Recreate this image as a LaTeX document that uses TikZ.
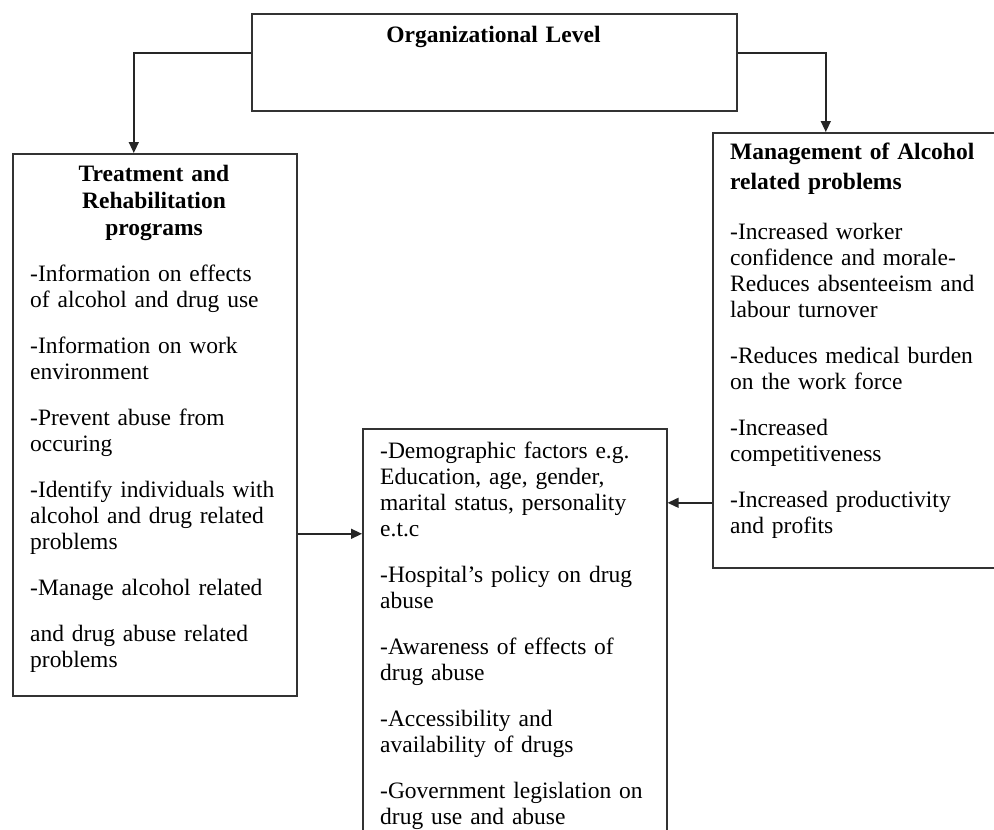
\documentclass[tikz,border=0pt]{standalone}
\usepackage{fontspec}
\setmainfont{Liberation Serif}
\usetikzlibrary{arrows.meta}
\begin{document}
\begin{tikzpicture}[x=1pt,y=-1pt,
  box/.style={draw=black!80, line width=1.6pt, fill=white, inner sep=0pt, anchor=north west},
  arr/.style={draw=black!85, line width=1.4pt, -{Triangle[length=11pt,width=10pt]}},
  body/.style={font=\fontsize{23.5}{26}\selectfont, align=left, text width=275pt, inner sep=0pt, anchor=base west},
  ttl/.style={font=\bfseries\fontsize{23.5}{27}\selectfont, inner sep=0pt, text width=270pt}]
\useasboundingbox (0,0) rectangle (994,830);
\fill[white] (0,0) rectangle (994,830);
\clip (0,0) rectangle (994,830);
% boxes
\node[box, minimum width=485pt, minimum height=97pt] (org) at (251,13) {};
\node[box, minimum width=284pt, minimum height=542pt] (treat) at (12,153) {};
\node[box, minimum width=284pt, minimum height=435pt] (mgmt) at (712,132) {};
\node[box, minimum width=304pt, minimum height=432pt] (factors) at (362,428) {};
% titles
\node[ttl, align=center, anchor=base] (orgt) at (493.5,42) {Organizational Level};
\node[ttl, align=center, anchor=base] (treatt) at (154,181) {Treatment and\\ Rehabilitation\\ programs};
\node[ttl, align=left, anchor=base west] (mgmtt) at (730,159) {Management of Alcohol\\[3pt] related problems};
% bodies
\node[body] (treatb) at (30,281) {-Information on effects\\ of alcohol and drug use\\[20pt]
-Information on work\\ environment\\[20pt]
-Prevent abuse from\\ occuring\\[20pt]
-Identify individuals with\\ alcohol and drug related\\ problems\\[20pt]
-Manage alcohol related\\[20pt]
and drug abuse related\\ problems};
\node[body] (mgmtb) at (730,239) {-Increased worker\\ confidence and morale-\\ Reduces absenteeism and\\ labour turnover\\[20pt]
-Reduces medical burden\\ on the work force\\[20pt]
-Increased\\ competitiveness\\[20pt]
-Increased productivity\\ and profits};
\node[body] (factorsb) at (380,458) {-Demographic factors e.g.\\ Education, age, gender,\\ marital status, personality\\ e.t.c\\[20pt]
-Hospital’s policy on drug\\ abuse\\[20pt]
-Awareness of effects of\\ drug abuse\\[20pt]
-Accessibility and\\ availability of drugs\\[20pt]
-Government legislation on\\ drug use and abuse};
% connectors
\draw[arr] ([yshift=9.5pt]org.west) -| ([xshift=-21pt]treat.north);
\draw[arr] ([yshift=9.5pt]org.east) -| ([xshift=-29pt]mgmt.north);
\draw[arr] ([yshift=-109pt]treat.east) coordinate (a1) -- (a1 -| factors.west);
\draw[arr] ([yshift=-152.5pt]mgmt.west) coordinate (a2) -- (a2 -| factors.east);
\end{tikzpicture}
\end{document}
